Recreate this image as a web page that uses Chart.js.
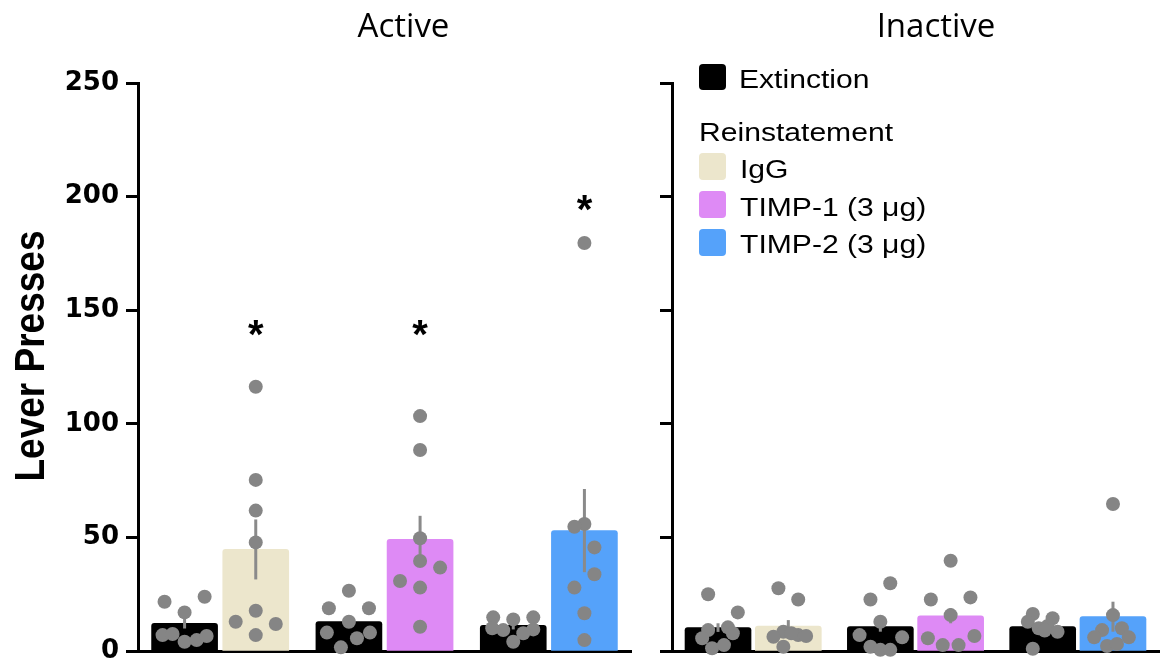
<!DOCTYPE html>
<html><head><meta charset="utf-8">
<script src="https://cdn.jsdelivr.net/npm/chart.js@4/dist/chart.umd.min.js"></script>
<style>
html,body{margin:0;padding:0;background:#fff;}
#wrap{position:relative;width:1166px;height:660px;overflow:hidden;}
#c1{position:absolute;left:0;top:0;}
#c2{position:absolute;left:650px;top:0;}
</style></head><body>
<div id="wrap"><canvas id="c1" width="650" height="660"></canvas><canvas id="c2" width="516" height="660"></canvas></div>
<script>
// ---------- data ----------
const groups = ['Group 1', 'Group 2', 'Group 3'];
const yTicks = [0, 50, 100, 150, 200, 250];
const yTitle = 'Lever Presses';
const panelTitles = ['Active', 'Inactive'];
const legendExt = 'Extinction';
const legendHeader = 'Reinstatement';
const reinLabels = ['IgG', 'TIMP-1 (3 μg)', 'TIMP-2 (3 μg)'];

// Active lever
const activeExtMean = [12.2, 13.0, 11.3];
const activeExtSem = [2.3, 2.8, 1.8];
const activeReinMean = [44.7, 49.2, 53.0];
const activeReinSem = [13.2, 10.3, 18.3];
const activeStars = [143, 143, 198];
const activeExtDots = [
  [21.7, 23.9, 17.0, 7.0, 7.5, 4.1, 4.8, 6.6],
  [26.5, 18.8, 18.8, 12.9, 8.1, 8.1, 5.6, 1.6],
  [14.8, 13.9, 14.8, 10.0, 9.2, 9.5, 7.8, 4.1]
];
const activeReinDots = [
  [116.3, 75.3, 61.8, 47.8, 17.7, 12.9, 11.9, 7.0],
  [103.4, 88.5, 49.6, 39.6, 36.7, 30.8, 27.9, 10.7],
  [179.6, 55.9, 54.7, 45.6, 33.8, 27.9, 16.6, 4.8]
];

// Inactive lever
const inactiveExtMean = [10.3, 10.7, 10.7];
const inactiveExtSem = [1.9, 2.2, 1.6];
const inactiveReinMean = [11.0, 15.5, 15.1];
const inactiveReinSem = [2.6, 3.3, 6.6];
const inactiveStars = [null, null, null];
const inactiveExtDots = [
  [25.0, 17.0, 9.2, 10.4, 5.6, 7.8, 1.2, 2.6],
  [29.8, 22.7, 12.9, 7.0, 6.0, 1.9, 0.5, 0.5],
  [16.3, 14.4, 12.9, 10.0, 11.0, 8.5, 9.0, 1.0]
];
const inactiveReinDots = [
  [27.6, 22.7, 8.5, 6.3, 7.0, 6.6, 7.8, 1.9],
  [39.7, 22.7, 23.6, 15.8, 5.6, 6.6, 2.6, 2.6],
  [64.7, 15.8, 9.2, 10.0, 6.0, 6.0, 2.2, 3.1]
];

// ---------- layout / style ----------
const PAIR_OFFSET = 0.2165;   // bar centre offset from group centre (group units)
const BAR_PX = 66, GROUP_PX = 164;
const EXT_COLOR = '#000000';
const REIN_COLORS = ['#ECE6CC', '#DE8AF5', '#55A2FA'];
const DOT_COLOR = '#858585';
const ERR_COLOR = '#8a8a8a';
// horizontal jitter of the dots (pixels)
const jitActiveExt = [[-20, 20, 0, -22, -12, 0, 12, 22], [0, -20, 20, 0, -22, 21, 8, -8], [-20, 0, 20, -21, -10, 20, 10, 0]];
const jitActiveRein = [[0, 0, 0, 0, 0, -20, 20, 0], [0, 0, 0, 0, 20, -20, 0, 0], [0, 0, -10, 10, 10, -10, 0, 0]];
const jitInactiveExt = [[-10, 20, -10, 10, -16, 15, -6, 6], [10, -10, 0, -21, 22, -10, 0, 10], [-10, 10, -15, -4, 5, 15, 2, -10]];
const jitInactiveRein = [[-10, 10, -5, -15, 10, 18, 3, -5], [0, -20, 20, 0, -23, 24, -8, 8], [0, 0, -11, 9, -19, 16, -6, 4]];

const SANS = '"Liberation Sans", Arial, sans-serif';

const errPlugin = {
  id: 'errbars',
  afterDatasetDraw(chart, args) {
    const ds = chart.data.datasets[args.index];
    if (!ds.sem) return;
    const ctx = chart.ctx, y = chart.scales.y;
    ctx.save();
    ctx.strokeStyle = ERR_COLOR; ctx.lineWidth = 3;
    args.meta.data.forEach((el, j) => {
      const m = ds.data[j].y, s = ds.sem[j];
      ctx.beginPath();
      ctx.moveTo(el.x, y.getPixelForValue(m - s));
      ctx.lineTo(el.x, y.getPixelForValue(m + s));
      ctx.stroke();
    });
    ctx.restore();
  },
  afterDatasetsDraw(chart) {
    const ctx = chart.ctx, y = chart.scales.y;
    chart.data.datasets.forEach((ds, i) => {
      if (!ds.stars) return;
      const meta = chart.getDatasetMeta(i);
      ctx.save();
      ctx.fillStyle = '#000';
      ctx.font = 'bold 40px ' + SANS;
      ctx.textAlign = 'center';
      ctx.textBaseline = 'alphabetic';
      ds.stars.forEach((v, j) => {
        if (v == null) return;
        ctx.fillText('*', meta.data[j].x, y.getPixelForValue(v) + 22);
      });
      ctx.restore();
    });
  }
};

function buildPanel(canvasId, p) {
  const barData = [], barColors = [], barSem = [], barStars = [];
  groups.forEach((g, i) => {
    barData.push({ x: i - PAIR_OFFSET, y: p.ext[i] });
    barColors.push(EXT_COLOR); barSem.push(p.extSem[i]); barStars.push(null);
    barData.push({ x: i + PAIR_OFFSET, y: p.rein[i] });
    barColors.push(REIN_COLORS[i]); barSem.push(p.reinSem[i]); barStars.push(p.stars[i]);
  });
  const datasets = [
    { type: 'bar', label: legendExt + ' / ' + legendHeader, data: barData, sem: barSem, stars: barStars,
      backgroundColor: barColors, order: 2, grouped: false, barThickness: BAR_PX,
      borderRadius: 3, borderSkipped: 'start' }
  ];
  [p.extDots, p.reinDots].forEach((set, k) => {
    const jit = k === 0 ? p.jitExt : p.jitRein;
    set.forEach((vals, g) => {
      datasets.push({
        type: 'scatter', order: 1, clip: false,
        data: vals.map((v, i) => ({ x: g + (k === 0 ? -1 : 1) * PAIR_OFFSET + jit[g][i] / GROUP_PX, y: v })),
        pointRadius: 7, pointHoverRadius: 7, backgroundColor: DOT_COLOR, borderWidth: 0
      });
    });
  });
  return new Chart(document.getElementById(canvasId), {
    type: 'bar',
    data: { datasets },
    options: {
      responsive: false, animation: false, devicePixelRatio: 1,
      layout: { padding: { top: 83, bottom: 9, left: 0, right: p.padRight } },
      plugins: { legend: { display: false }, tooltip: { enabled: false }, title: { display: false } },
      scales: {
        x: { type: 'linear', min: -0.5, max: 2.5, offset: false, bounds: 'data',
             grid: { display: false, drawTicks: false, offset: false },
             border: { display: true, color: '#000', width: 3 }, ticks: { display: false } },
        y: { type: 'linear', position: 'left', min: 0, max: 250,
             afterBuildTicks: s => { s.ticks = yTicks.map(v => ({ value: v })); },
             afterFit: s => { s.width = p.axisW; s.paddingTop = 0; s.paddingBottom = 0; },
             grid: { display: true, drawOnChartArea: false, drawTicks: true, tickLength: 12, tickWidth: 3, tickColor: '#000' },
             border: { display: true, color: '#000', width: 3 },
             ticks: { display: p.showLabels, color: '#000', padding: 7,
                      font: { family: '"DejaVu Sans", sans-serif', size: 26, weight: 'bold' } } }
      }
    },
    plugins: [errPlugin, { id: 'texts', afterDraw: chart => p.drawText(chart.ctx) }]
  });
}

function roundBox(ctx, x, y, w, h, r, color) {
  ctx.fillStyle = color;
  ctx.beginPath();
  ctx.roundRect(x, y, w, h, r);
  ctx.fill();
}
function stretchedText(ctx, txt, x, y, font, sx) {
  ctx.save();
  ctx.translate(x, y);
  ctx.scale(sx, 1);
  ctx.font = font;
  ctx.fillStyle = '#000';
  ctx.textAlign = 'left';
  ctx.textBaseline = 'alphabetic';
  ctx.fillText(txt, 0, 0);
  ctx.restore();
}
function drawTitle(ctx, txt, x) {
  ctx.save();
  ctx.font = '33px "Open Sans", sans-serif';
  ctx.fillStyle = '#000';
  ctx.textAlign = 'center';
  ctx.textBaseline = 'alphabetic';
  ctx.fillText(txt, x, 37);
  ctx.restore();
}

buildPanel('c1', {
  ext: activeExtMean, extSem: activeExtSem, rein: activeReinMean, reinSem: activeReinSem, stars: activeStars,
  extDots: activeExtDots, reinDots: activeReinDots, jitExt: jitActiveExt, jitRein: jitActiveRein,
  axisW: 138, padRight: 19, showLabels: true,
  drawText(ctx) {
    drawTitle(ctx, panelTitles[0], 403.5);
    ctx.save();
    ctx.translate(43.5, 356);
    ctx.rotate(-Math.PI / 2);
    ctx.scale(1, 1.13);
    ctx.font = 'bold 37px ' + SANS;
    ctx.fillStyle = '#000';
    ctx.textAlign = 'center';
    ctx.textBaseline = 'alphabetic';
    ctx.fillText(yTitle, 0, 0);
    ctx.restore();
  }
});

buildPanel('c2', {
  ext: inactiveExtMean, extSem: inactiveExtSem, rein: inactiveReinMean, reinSem: inactiveReinSem, stars: inactiveStars,
  extDots: inactiveExtDots, reinDots: inactiveReinDots, jitExt: jitInactiveExt, jitRein: jitInactiveRein,
  axisW: 22, padRight: 2, showLabels: false,
  drawText(ctx) {
    drawTitle(ctx, panelTitles[1], 286);
    const F = '25.5px ' + SANS, SX = 1.18;
    ctx.save();
    roundBox(ctx, 49, 64, 27, 26, 4, EXT_COLOR);
    stretchedText(ctx, legendExt, 89, 88.3, F, SX);
    stretchedText(ctx, legendHeader, 49, 141, F, SX);
    const ys = [153, 191, 229], bl = [177.7, 215.7, 253.3];
    reinLabels.forEach((t, i) => {
      roundBox(ctx, 49, ys[i], 27, 27, 4, REIN_COLORS[i]);
      stretchedText(ctx, t, 90, bl[i], F, SX);
    });
    ctx.restore();
  }
});
</script>
</body></html>
